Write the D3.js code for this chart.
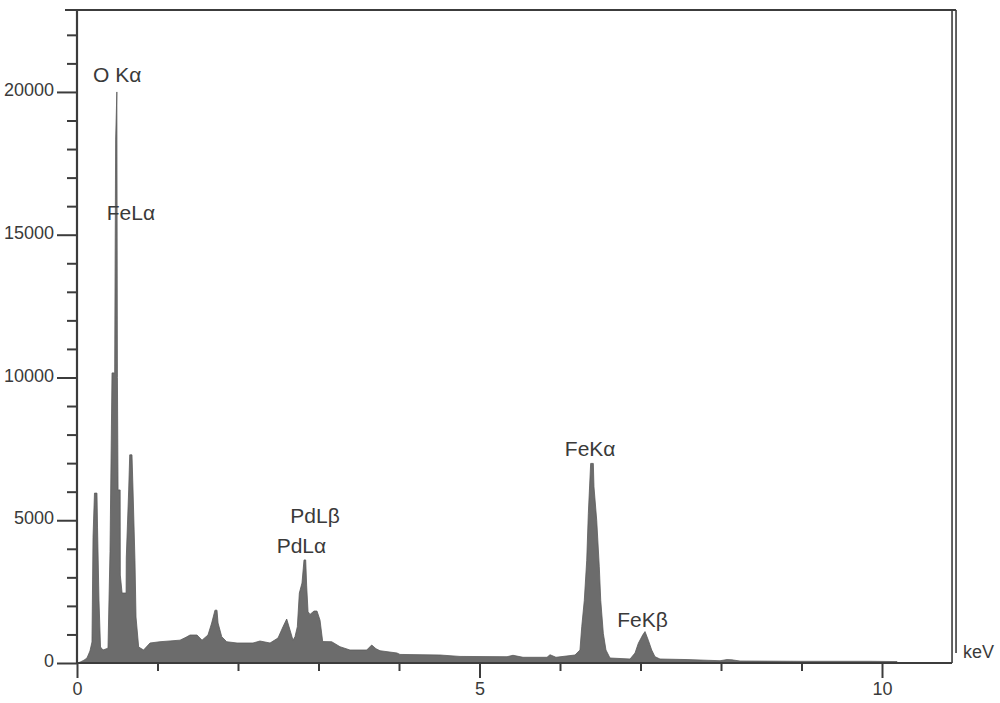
<!DOCTYPE html>
<html>
<head>
<meta charset="utf-8">
<script src="https://cdn.jsdelivr.net/npm/d3@7"></script>
<style>
  html, body { margin: 0; padding: 0; background: #fff; }
  svg { display: block; }
  text { font-family: "Liberation Sans", Arial, sans-serif; fill: #3a3a3a; }
</style>
</head>
<body>
<svg id="chart" width="1000" height="703"></svg>
<script>
// ---- data ----
const energyKeV = [0.000, 0.037, 0.087, 0.124, 0.161, 0.186, 0.199, 0.217, 0.248, 0.255, 0.273, 0.292, 0.323, 0.385,
  0.410, 0.435, 0.468, 0.480, 0.495, 0.502, 0.510, 0.536, 0.538, 0.560, 0.610, 0.612, 0.642, 0.655, 0.683, 0.696,
  0.720, 0.733, 0.766, 0.827, 0.907, 1.031, 1.280, 1.354, 1.404, 1.491, 1.553, 1.627, 1.673, 1.714, 1.739, 1.752,
  1.798, 1.860, 1.988, 2.186, 2.273, 2.398, 2.497, 2.559, 2.605, 2.646, 2.683, 2.708, 2.737, 2.762, 2.795, 2.820,
  2.841, 2.853, 2.870, 2.894, 2.944, 2.981, 3.019, 3.052, 3.164, 3.267, 3.391, 3.599, 3.661, 3.714, 3.764, 3.975,
  4.012, 4.509, 4.758, 5.342, 5.416, 5.540, 5.839, 5.876, 5.950, 6.186, 6.248, 6.270, 6.302, 6.332, 6.352, 6.381,
  6.414, 6.422, 6.456, 6.488, 6.506, 6.538, 6.571, 6.621, 6.870, 6.932, 6.973, 7.027, 7.056, 7.097, 7.139, 7.180,
  7.242, 7.578, 7.988, 8.075, 8.137, 8.236, 8.981, 9.478, 9.851, 10.186, 10.199];
const counts = [0, 30, 100, 175, 420, 735, 4400, 5950, 5950, 4760, 2200, 560, 455, 520,
  3900, 10160, 10160, 18320, 20000, 10000, 6060, 6060, 3080, 2450, 2450, 3680, 6060, 7290, 7290, 6060,
  3600, 1610, 560, 455, 700, 745, 800, 900, 980, 980, 800, 980, 1400, 1850, 1850, 1400,
  920, 745, 700, 700, 770, 700, 875, 1270, 1540, 1155, 800, 920, 1270, 2450, 2800, 3610,
  3610, 2700, 1800, 1700, 1820, 1820, 1500, 750, 745, 570, 455, 455, 630, 500, 430, 350,
  300, 280, 230, 220, 270, 200, 200, 290, 200, 280, 455, 1270, 2200, 3600, 5240, 6990,
  6990, 6170, 5000, 3370, 2200, 1040, 455, 175, 140, 350, 690, 980, 1100, 800, 455, 220,
  140, 120, 80, 120, 110, 70, 60, 60, 60, 50, 0];

const xMajorTicks = [0, 5, 10];
const xMinorTicks = [1, 2, 3, 4, 6, 7, 8, 9];
const yMajorTicks = [0, 5000, 10000, 15000, 20000];
const yMinorTicks = [1000, 2000, 3000, 4000, 6000, 7000, 8000, 9000, 11000, 12000, 13000, 14000,
  16000, 17000, 18000, 19000, 21000, 22000];

const peakLabels = ["O K\u03b1", "FeL\u03b1", "PdL\u03b2", "PdL\u03b1", "FeK\u03b1", "FeK\u03b2"];
const peakLabelKeV = [0.20, 0.37, 2.65, 2.48, 6.06, 6.71];
const peakLabelCounts = [20350, 15530, 4920, 3870, 7240, 1260];
const xUnit = "keV";

// ---- layout ----
const svg = d3.select("#chart");
const xDomainMax = 10.87;    // right frame
const yDomainMax = 22870;    // top frame
const x = d3.scaleLinear().domain([0, 10]).range([77, 882]);
const y = d3.scaleLinear().domain([0, yDomainMax]).range([663, 10]);
const axisColor = "#3c3c3c";

// spectrum
const pts = energyKeV.map((e, i) => [e, counts[i]]);
const area = d3.area()
  .x(d => x(d[0]))
  .y0(y(0))
  .y1(d => y(d[1]))
  .curve(d3.curveLinear);
svg.append("path")
  .datum(pts)
  .attr("d", area)
  .attr("fill", "#6c6c6c")
  .attr("stroke", "#5a5a5a")
  .attr("stroke-width", 0.8);

// Y axis
const gy = svg.append("g").attr("transform", `translate(${x(0)},0)`);
gy.call(d3.axisLeft(y).tickValues(yMinorTicks).tickSize(10).tickSizeOuter(0).tickFormat(""));
gy.call(g => g.select(".domain").remove());
const gyM = svg.append("g").attr("transform", `translate(${x(0)},0)`);
gyM.call(d3.axisLeft(y).tickValues(yMajorTicks).tickSize(20).tickSizeOuter(0).tickPadding(3).tickFormat(d3.format("d")));
gyM.select(".domain").remove();
svg.selectAll("g .tick line").attr("stroke", axisColor).attr("stroke-width", 2);
gyM.selectAll(".tick text").attr("font-size", 18).attr("fill", "#3a3a3a")
  .style("font-family", "'Liberation Sans', Arial, sans-serif").attr("dy", "0.2em");

// X axis
const gx = svg.append("g").attr("transform", `translate(0,${y(0)})`);
gx.call(d3.axisBottom(x).tickValues(xMinorTicks).tickSize(8).tickSizeOuter(0).tickFormat(""));
gx.select(".domain").remove();
const gxM = svg.append("g").attr("transform", `translate(0,${y(0)})`);
gxM.call(d3.axisBottom(x).tickValues(xMajorTicks).tickSize(15).tickSizeOuter(0).tickPadding(4).tickFormat(d3.format("d")));
gxM.select(".domain").remove();
svg.selectAll("g .tick line").attr("stroke", axisColor).attr("stroke-width", 2);
gxM.selectAll(".tick text").attr("font-size", 18).attr("fill", "#3a3a3a")
  .style("font-family", "'Liberation Sans', Arial, sans-serif");

// frame lines
const frame = svg.append("g").attr("stroke", axisColor).attr("fill", "none");
frame.append("line").attr("x1", x(0)).attr("x2", x(0)).attr("y1", y(yDomainMax)).attr("y2", y(0)).attr("stroke-width", 2.2);
frame.append("line").attr("x1", x(0)).attr("x2", x(xDomainMax)).attr("y1", y(0)).attr("y2", y(0)).attr("stroke-width", 2.2);
frame.append("line").attr("x1", x(0) - 12).attr("x2", x(xDomainMax) + 4).attr("y1", y(yDomainMax)).attr("y2", y(yDomainMax)).attr("stroke-width", 2.2);
frame.append("line").attr("x1", x(xDomainMax)).attr("x2", x(xDomainMax)).attr("y1", y(yDomainMax)).attr("y2", y(0)).attr("stroke-width", 1.6);
frame.append("line").attr("x1", x(xDomainMax) + 4).attr("x2", x(xDomainMax) + 4).attr("y1", y(yDomainMax)).attr("y2", y(0) - 10).attr("stroke-width", 1.6);

// peak labels
svg.append("g").selectAll("text")
  .data(peakLabels)
  .join("text")
  .attr("x", (d, i) => x(peakLabelKeV[i]))
  .attr("y", (d, i) => y(peakLabelCounts[i]))
  .attr("font-size", 21)
  .text(d => d);

// unit label
svg.append("text")
  .attr("x", x(xDomainMax) + 11)
  .attr("y", y(180))
  .attr("font-size", 18)
  .text(xUnit);
</script>
</body>
</html>
